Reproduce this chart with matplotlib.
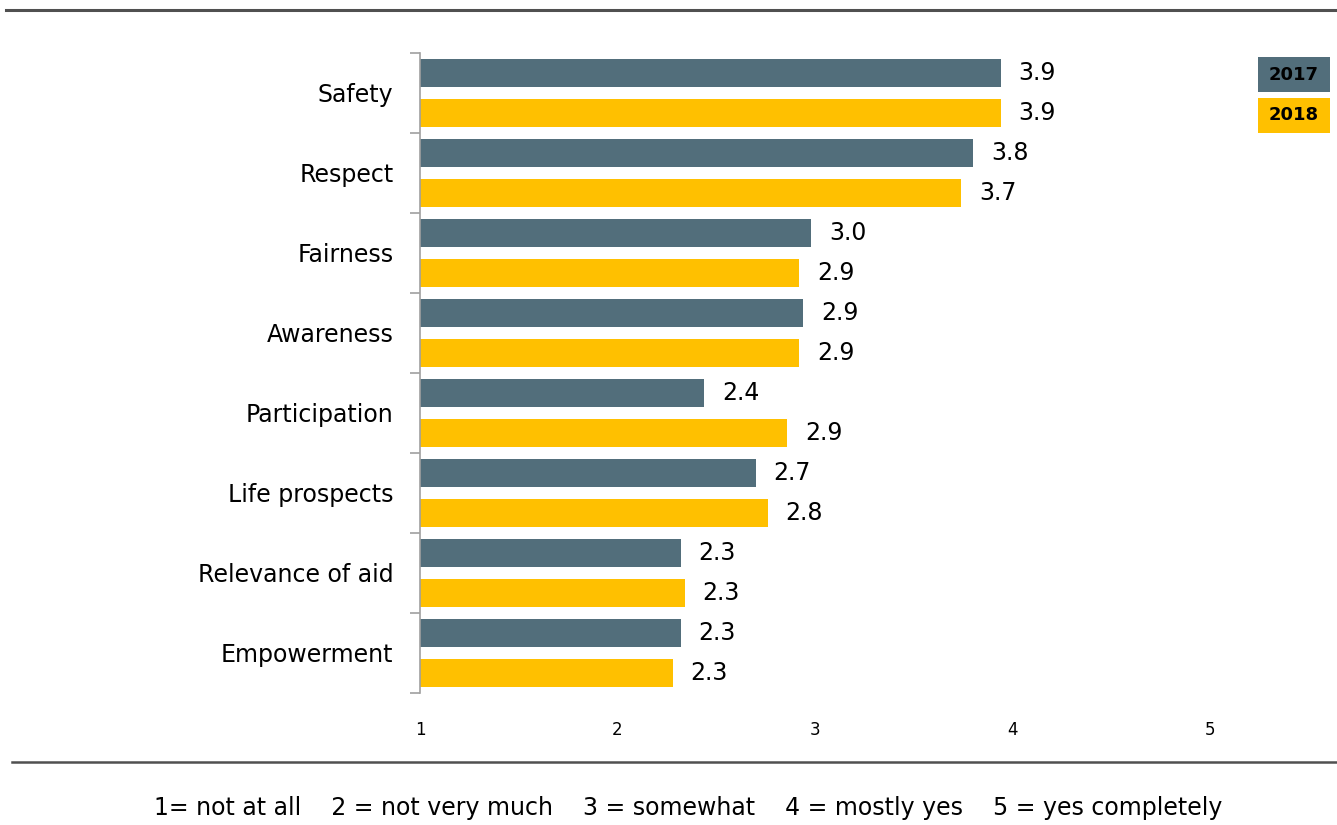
import numpy as np
import matplotlib
matplotlib.use("Agg")
import matplotlib.pyplot as plt
from matplotlib.patches import Rectangle
from matplotlib.lines import Line2D

categories = ["Safety", "Respect", "Fairness", "Awareness", "Participation",
              "Life prospects", "Relevance of aid", "Empowerment"]
scores_2017 = [3.94, 3.80, 2.98, 2.94, 2.44, 2.70, 2.32, 2.32]
scores_2018 = [3.94, 3.74, 2.92, 2.92, 2.86, 2.76, 2.34, 2.28]
labels_2017 = ["3.9", "3.8", "3.0", "2.9", "2.4", "2.7", "2.3", "2.3"]
labels_2018 = ["3.9", "3.7", "2.9", "2.9", "2.9", "2.8", "2.3", "2.3"]
x_ticks = [1, 2, 3, 4, 5]
footnote = "1= not at all    2 = not very much    3 = somewhat    4 = mostly yes    5 = yes completely"

c2017 = "#526E7B"
c2018 = "#FFC000"

plt.rcParams['font.family'] = ['DejaVu Sans']

fig = plt.figure(figsize=(13.37, 8.25), dpi=100)
ax = fig.add_axes([0.3141, 0.16, 0.5909, 0.7758])

y = np.arange(len(categories))
h = 0.34
ax.barh(y - 0.25, np.array(scores_2017) - 1, left=1, height=h, color=c2017)
ax.barh(y + 0.25, np.array(scores_2018) - 1, left=1, height=h, color=c2018)

for yi, v, t in zip(y, scores_2017, labels_2017):
    ax.text(v + 0.09, yi - 0.25, t, va="center", ha="left", fontsize=17, clip_on=False)
for yi, v, t in zip(y, scores_2018, labels_2018):
    ax.text(v + 0.09, yi + 0.25, t, va="center", ha="left", fontsize=17, clip_on=False)

ax.set_xlim(1, 5)
ax.set_ylim(len(categories) - 0.5, -0.5)
ax.set_xticks(x_ticks)
ax.set_xticklabels([str(t) for t in x_ticks], fontsize=12)
ax.tick_params(axis="x", length=0, pad=20)

ax.set_yticks(y)
ax.set_yticklabels(categories, fontsize=17)
ax.tick_params(axis="y", which="major", length=0, pad=19)
ax.set_yticks(np.arange(len(categories) + 1) - 0.5, minor=True)
ax.tick_params(axis="y", which="minor", length=7, color="#A0A0A0", width=1.2)

for s in ["top", "right", "bottom"]:
    ax.spines[s].set_visible(False)
ax.spines["left"].set_color("#A0A0A0")
ax.spines["left"].set_linewidth(1.2)

# legend boxes
W, H = 1337.0, 825.0
for (yt, col, lab) in [(57, c2017, "2017"), (98, c2018, "2018")]:
    fig.patches.append(Rectangle((1258 / W, 1 - (yt + 35) / H), 72 / W, 35 / H,
                                 transform=fig.transFigure, facecolor=col, edgecolor="none"))
    fig.text(1294 / W, 1 - (yt + 17.5) / H, lab, ha="center", va="center",
             fontsize=13, fontweight="bold", color="black")

# horizontal rules
fig.add_artist(Line2D([6 / W, 1], [1 - 10 / H, 1 - 10 / H], transform=fig.transFigure,
                      color="#505050", linewidth=2.2))
fig.add_artist(Line2D([12 / W, 1], [1 - 762 / H, 1 - 762 / H], transform=fig.transFigure,
                      color="#505050", linewidth=1.8))

fig.text(688 / W, 1 - 808 / H, footnote, ha="center", va="center", fontsize=17)

fig.savefig("out.png", dpi=100)
